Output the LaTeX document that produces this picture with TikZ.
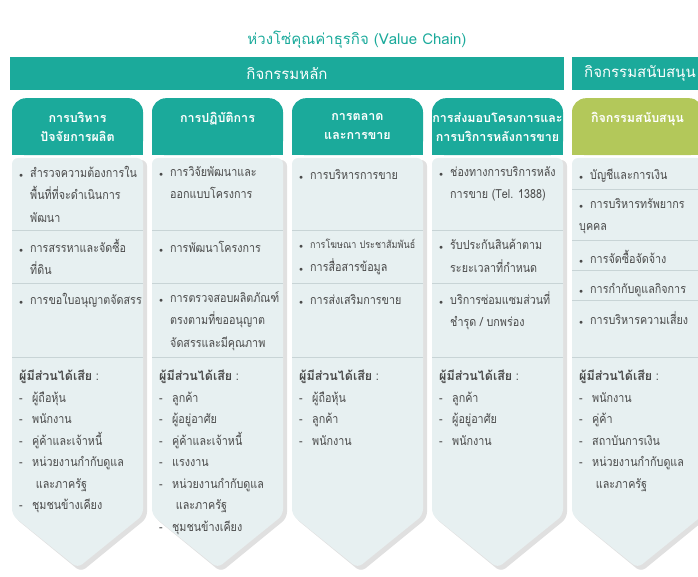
\documentclass[tikz,border=0pt]{standalone}
\usepackage{fontspec}
\usepackage{tikz}
\usetikzlibrary{backgrounds}
\newfontfamily\thai[Script=Thai]{Loma}
\newfontfamily\thaic[Script=Thai, FakeStretch=0.86]{Loma}
\definecolor{vcteal}{HTML}{1BAA9B}
\definecolor{vcgreen}{HTML}{B3C85A}
\definecolor{vcbody}{HTML}{E7F0F1}
\definecolor{vcline}{HTML}{C8D4D6}
\definecolor{vctext}{HTML}{4A4A4A}
\newcommand{\vcbul}{\makebox[11pt][l]{\scriptsize$\bullet$}}
\newcommand{\vcind}{\hspace*{11pt}}
\newcommand{\vcdash}{\makebox[13pt][l]{-}}
\newcommand{\vcwho}{{\thai\bfseries ผู้มีส่วนได้เสีย} :}

\begin{document}
\begin{tikzpicture}[x=1pt,y=-1pt,
	banner/.style={fill=vcteal, text=white, minimum height=33pt, inner sep=0pt, font=\thai\fontsize{15}{18}\selectfont},
	head/.style={fill=vcteal, text=white, rounded corners=14pt, minimum width=131pt, minimum height=57pt, inner sep=0pt, anchor=north, align=center, font=\thai\bfseries\fontsize{12.5}{19}\selectfont},
	cell/.style={anchor=north west, align=left, inner sep=0pt, text=vctext, font=\thaic\fontsize{12.5}{22.5}\selectfont, execute at begin node={\rule{0pt}{13pt}}},
	who/.style={cell, font=\thaic\fontsize{12.5}{21.5}\selectfont},
	body/.style={fill=vcbody, rounded corners=6pt},
	shade/.style={fill=black, opacity=.12, rounded corners=6pt},
	sep/.style={draw=vcline, line width=0.8pt}]
	\clip (0,0) rectangle (698,577);
	% title and banners
	\node[text=vcteal, font=\thai\fontsize{15}{18}\selectfont] (title) at (357,40) {ห่วงโซ่คุณค่าธุรกิจ (Value Chain)};
	\node[banner, minimum width=554pt] (core) at (287,73.5) {กิจกรรมหลัก};
	\node[banner, minimum width=136pt] (support) at (640,73.5) {กิจกรรมสนับสนุน};
	% column heads
	\node[head] (h1) at (77.5,98) {การบริหาร\\ปัจจัยการผลิต};
	\node[head] (h2) at (217.5,98) {การปฏิบัติการ\\\mbox{}};
	\node[head] (h3) at (357.5,98) {การตลาด\\และการขาย};
	\node[head] (h4) at (497.5,98) {การส่งมอบโครงการและ\\การบริการหลังการขาย};
	\node[head, fill=vcgreen] (h5) at (637.5,98) {กิจกรรมสนับสนุน\\\mbox{}};
	\begin{scope}[on background layer]
		\fill[vcteal] (h1.west) rectangle (h1.south east);
		\fill[vcteal] (h2.west) rectangle (h2.south east);
		\fill[vcteal] (h3.west) rectangle (h3.south east);
		\fill[vcteal] (h4.west) rectangle (h4.south east);
		\fill[vcgreen] (h5.west) rectangle (h5.south east);
	\end{scope}
	% column bodies
	\fill[shade] (15,160) -- (147,160) -- (147,518) -- (81,572) -- (15,518) -- cycle;
	\fill[body] (12,158) -- (143,158) -- (143,515) -- (77.5,568) -- (12,515) -- cycle;
	\fill[shade] (155,160) -- (287,160) -- (287,518) -- (221,572) -- (155,518) -- cycle;
	\fill[body] (152,158) -- (283,158) -- (283,515) -- (217.5,568) -- (152,515) -- cycle;
	\fill[shade] (295,160) -- (427,160) -- (427,518) -- (361,572) -- (295,518) -- cycle;
	\fill[body] (292,158) -- (423,158) -- (423,515) -- (357.5,568) -- (292,515) -- cycle;
	\fill[shade] (435,160) -- (567,160) -- (567,518) -- (501,572) -- (435,518) -- cycle;
	\fill[body] (432,158) -- (563,158) -- (563,515) -- (497.5,568) -- (432,515) -- cycle;
	\fill[shade] (575,160) -- (707,160) -- (707,518) -- (641,572) -- (575,518) -- cycle;
	\fill[body] (572,158) -- (703,158) -- (703,515) -- (637.5,568) -- (572,515) -- cycle;
	% row lines
	\draw[sep] (12,230) -- (143,230) (12,283) -- (143,283) (12,357) -- (143,357);
	\draw[sep] (152,230) -- (283,230) (152,283) -- (283,283) (152,357) -- (283,357);
	\draw[sep] (292,230) -- (423,230) (292,283) -- (423,283) (292,357) -- (423,357);
	\draw[sep] (432,230) -- (563,230) (432,283) -- (563,283) (432,357) -- (563,357);
	\draw[sep] (572,189) -- (698,189) (572,240) -- (698,240) (572,270) -- (698,270) (572,300) -- (698,300) (572,357) -- (698,357);
	% activities
	\node[cell] (a11) at (19,166) {\vcbul สำรวจความต้องการใน\\\vcind พื้นที่ที่จะดำเนินการ\\\vcind พัฒนา};
	\node[cell] (a12) at (19,239) {\vcbul การสรรหาและจัดซื้อ\\\vcind ที่ดิน};
	\node[cell] (a13) at (19,291) {\vcbul การขอใบอนุญาตจัดสรร};
	\node[cell] (a21) at (159,166) {\vcbul การวิจัยพัฒนาและ\\\vcind ออกแบบโครงการ};
	\node[cell] (a22) at (159,239) {\vcbul การพัฒนาโครงการ};
	\node[cell] (a23) at (159,291) {\vcbul การตรวจสอบผลิตภัณฑ์\\\vcind ตรงตามที่ขออนุญาต\\\vcind จัดสรรและมีคุณภาพ};
	\node[cell] (a31) at (299,166) {\vcbul การบริหารการขาย};
	\node[cell] (a32) at (299,239) {\vcbul {\fontsize{10.5}{22}\selectfont การโฆษณา ประชาสัมพันธ์}\\\vcbul การสื่อสารข้อมูล};
	\node[cell] (a33) at (299,291) {\vcbul การส่งเสริมการขาย};
	\node[cell] (a41) at (439,166) {\vcbul ช่องทางการบริการหลัง\\\vcind การขาย (Tel. 1388)};
	\node[cell] (a42) at (439,239) {\vcbul รับประกันสินค้าตาม\\\vcind ระยะเวลาที่กำหนด};
	\node[cell] (a43) at (439,291) {\vcbul บริการซ่อมแซมส่วนที่\\\vcind ชำรุด / บกพร่อง};
	\node[cell] (a51) at (579,166) {\vcbul บัญชีและการเงิน};
	\node[cell] (a52) at (579,198) {\vcbul การบริหารทรัพยากร\\บุคคล};
	\node[cell] (a53) at (579,250) {\vcbul การจัดซื้อจัดจ้าง};
	\node[cell] (a54) at (579,280) {\vcbul การกำกับดูแลกิจการ};
	\node[cell] (a55) at (579,311) {\vcbul การบริหารความเสี่ยง};
	% stakeholders
	\node[who] (s1) at (19,370) {\vcwho\\\vcdash ผู้ถือหุ้น\\\vcdash พนักงาน\\\vcdash คู่ค้าและเจ้าหนี้\\\vcdash หน่วยงานกำกับดูแล\\\vcind\hspace*{2pt} และภาครัฐ\\\vcdash ชุมชนข้างเคียง};
	\node[who] (s2) at (159,370) {\vcwho\\\vcdash ลูกค้า\\\vcdash ผู้อยู่อาศัย\\\vcdash คู่ค้าและเจ้าหนี้\\\vcdash แรงงาน\\\vcdash หน่วยงานกำกับดูแล\\\vcind\hspace*{2pt} และภาครัฐ\\\vcdash ชุมชนข้างเคียง};
	\node[who] (s3) at (299,370) {\vcwho\\\vcdash ผู้ถือหุ้น\\\vcdash ลูกค้า\\\vcdash พนักงาน};
	\node[who] (s4) at (439,370) {\vcwho\\\vcdash ลูกค้า\\\vcdash ผู้อยู่อาศัย\\\vcdash พนักงาน};
	\node[who] (s5) at (579,370) {\vcwho\\\vcdash พนักงาน\\\vcdash คู่ค้า\\\vcdash สถาบันการเงิน\\\vcdash หน่วยงานกำกับดูแล\\\vcind\hspace*{2pt} และภาครัฐ};
\end{tikzpicture}
\end{document}
